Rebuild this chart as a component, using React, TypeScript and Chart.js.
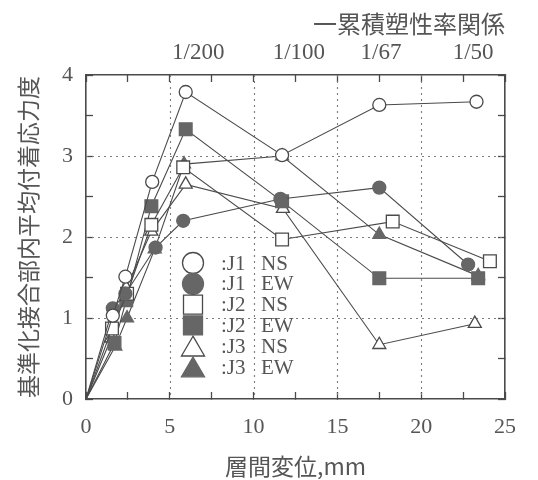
import React, { useEffect, useRef } from 'react';
import { Chart, registerables } from 'chart.js';

Chart.register(...registerables);

// ---- data ----
const xTickLabels = ['0', '5', '10', '15', '20', '25'];
const yTickLabels = ['0', '1', '2', '3', '4'];
const driftLabels = ['1/200', '1/100', '1/67', '1/50'];
const driftPositions = [6.7, 12.7, 17.6, 23.1];
const topTitle = '一累積塑性率関係';
const xTitle = '層間変位,mm';
const yTitle = '基準化接合部内平均付着応力度';
const seriesNames = ['J1 NS', 'J1 EW', 'J2 NS', 'J2 EW', 'J3 NS', 'J3 EW'];

const j1nsX = [0, 1.6, 2.35, 3.95, 5.95, 11.7, 17.5, 23.3];
const j1nsY = [0, 1.03, 1.51, 2.68, 3.79, 3.01, 3.63, 3.67];
const j1ewX = [0, 1.6, 2.35, 4.15, 5.8, 11.6, 17.5, 22.8];
const j1ewY = [0, 1.12, 1.3, 1.87, 2.2, 2.47, 2.61, 1.66];
const j2nsX = [0, 1.55, 2.45, 3.9, 5.8, 11.7, 18.3, 24.1];
const j2nsY = [0, 0.87, 1.3, 2.15, 2.86, 1.97, 2.19, 1.7];
const j2ewX = [0, 1.7, 2.4, 3.9, 5.95, 11.7, 17.5, 23.4];
const j2ewY = [0, 0.69, 1.22, 2.38, 3.33, 2.44, 1.49, 1.49];
const j3nsX = [0, 1.5, 2.4, 3.9, 5.95, 11.75, 17.5, 23.2];
const j3nsY = [0, 0.75, 1.37, 2.07, 2.65, 2.35, 0.67, 0.93];
const j3ewX = [0, 1.75, 2.45, 4.1, 5.85, 11.7, 17.5, 23.4];
const j3ewY = [0, 0.65, 1.0, 1.85, 2.9, 3.0, 2.03, 1.52];

const seriesX = [j1nsX, j1ewX, j2nsX, j2ewX, j3nsX, j3ewX];
const seriesY = [j1nsY, j1ewY, j2nsY, j2ewY, j3nsY, j3ewY];
const seriesShape = ['circle', 'circle', 'rect', 'rect', 'triangle', 'triangle'];
const seriesFilled = [false, true, false, true, false, true];

// ---- styles ----
const INK = '#4a4a4a';
const TEXT = '#555555';
const FILL = '#666666';
const GRID = '#7c7c7c';
const NUM_FONT = '"Liberation Serif", serif';
const JP_FONT = '"Noto Sans CJK JP", sans-serif';
const shapeRadius: Record<string, number> = { circle: 6.5, rect: 9, triangle: 7.5 };

function drawShape(ctx: CanvasRenderingContext2D, shape: string, x: number, y: number, r: number, filled: boolean) {
  ctx.save();
  ctx.beginPath();
  if (shape === 'circle') {
    ctx.arc(x, y, r, 0, Math.PI * 2);
  } else if (shape === 'rect') {
    ctx.rect(x - r, y - r, 2 * r, 2 * r);
  } else {
    ctx.moveTo(x, y - r);
    ctx.lineTo(x + r * 1.05, y + r * 0.8);
    ctx.lineTo(x - r * 1.05, y + r * 0.8);
    ctx.closePath();
  }
  ctx.fillStyle = filled ? FILL : '#ffffff';
  ctx.fill();
  ctx.lineWidth = 1.3;
  ctx.strokeStyle = filled ? FILL : INK;
  ctx.stroke();
  ctx.restore();
}

const gridX = [5, 10, 15, 20];
const gridY = [1, 2, 3];

const extrasPlugin = {
  id: 'extras',
  beforeDatasetsDraw(chart: any) {
    // dotted reference grid
    const ctx: CanvasRenderingContext2D = chart.ctx;
    const xs = chart.scales.x;
    const ys = chart.scales.y;
    const a = chart.chartArea;
    ctx.save();
    ctx.strokeStyle = GRID;
    ctx.lineWidth = 1.1;
    ctx.setLineDash([2, 4]);
    gridX.forEach((v) => {
      const px = Math.round(xs.getPixelForValue(v)) + 0.5;
      ctx.beginPath();
      ctx.moveTo(px, a.top);
      ctx.lineTo(px, a.bottom);
      ctx.stroke();
    });
    gridY.forEach((v) => {
      const py = Math.round(ys.getPixelForValue(v)) + 0.5;
      ctx.beginPath();
      ctx.moveTo(a.left, py);
      ctx.lineTo(a.right, py);
      ctx.stroke();
    });
    ctx.restore();
  },
  afterDraw(chart: any) {
    const ctx: CanvasRenderingContext2D = chart.ctx;
    const xs = chart.scales.x;
    ctx.save();
    // drift ratio labels along top
    ctx.font = `23px ${NUM_FONT}`;
    ctx.fillStyle = TEXT;
    ctx.textAlign = 'center';
    ctx.textBaseline = 'middle';
    driftLabels.forEach((lab, i) => {
      ctx.fillText(lab, xs.getPixelForValue(driftPositions[i]), 53);
    });
    // legend
    const lx = 193;
    const ly0 = 263;
    const dy = 20.8;
    seriesNames.forEach((name, i) => {
      const y = ly0 + i * dy;
      const sh = seriesShape[i];
      const r = sh === 'circle' ? 10.5 : sh === 'rect' ? 9.5 : 11;
      drawShape(ctx, sh, lx, y + (sh === 'triangle' ? 1 : 0), r, seriesFilled[i]);
      const [a, b] = name.split(' ');
      ctx.font = `21px ${NUM_FONT}`;
      ctx.fillStyle = TEXT;
      ctx.textAlign = 'left';
      ctx.textBaseline = 'middle';
      ctx.fillText(':' + a, 221, y + 1);
      ctx.fillText(b, 261, y + 1);
    });
    ctx.restore();
  },
};

export default function App() {
  const ref = useRef<HTMLCanvasElement | null>(null);
  useEffect(() => {
    if (!ref.current) return;
    const datasets = seriesNames.map((name, i) => {
      const sh = seriesShape[i];
      return {
        label: name,
        data: seriesX[i].map((x, j) => ({ x, y: seriesY[i][j] })),
        borderColor: INK,
        borderWidth: 1.1,
        pointStyle: sh,
        pointRadius: seriesX[i].map((_, j) => (j === 0 ? 0 : shapeRadius[sh])),
        pointBackgroundColor: seriesFilled[i] ? FILL : '#ffffff',
        pointBorderColor: seriesFilled[i] ? FILL : INK,
        pointBorderWidth: 1.3,
        fill: false,
        tension: 0,
      };
    });
    const tickFont = { family: NUM_FONT, size: 22 };
    const borderCfg = { display: true, color: INK, width: 1.6 };
    const noGrid = 'rgba(0,0,0,0)';
    const chart = new Chart(ref.current, {
      type: 'line',
      data: { datasets },
      plugins: [extrasPlugin],
      options: {
        animation: false,
        responsive: false,
        devicePixelRatio: 1,
        layout: { padding: 0 },
        plugins: { legend: { display: false }, tooltip: { enabled: false } },
        scales: {
          x: {
            type: 'linear',
            position: 'bottom',
            min: 0,
            max: 25,
            ticks: {
              stepSize: 2.5,
              autoSkip: false,
              maxRotation: 0,
              padding: 22,
              color: TEXT,
              font: tickFont,
              callback: (v: any) => (xTickLabels.includes(String(v)) ? String(v) : ''),
            },
            grid: { color: noGrid, tickColor: INK, tickLength: -7, tickWidth: 1.3 },
            border: borderCfg,
            title: { display: true, text: xTitle, color: TEXT, font: { family: JP_FONT, size: 23 }, padding: { top: 0, bottom: 0 } },
            afterFit: (s: any) => { s.height = 81; },
          },
          x2: {
            type: 'linear',
            position: 'top',
            min: 0,
            max: 25,
            ticks: { stepSize: 2.5, display: false, autoSkip: false },
            grid: { drawOnChartArea: false, tickColor: INK, tickLength: -7, tickWidth: 1.3 },
            border: borderCfg,
            title: { display: true, text: topTitle, align: 'end', color: TEXT, font: { family: JP_FONT, size: 24 }, padding: { top: 9, bottom: 0 } },
            afterFit: (s: any) => { s.height = 75; },
          },
          y: {
            type: 'linear',
            position: 'left',
            min: 0,
            max: 4,
            ticks: {
              stepSize: 0.5,
              autoSkip: false,
              padding: 20,
              color: TEXT,
              font: tickFont,
              callback: (v: any) => (yTickLabels.includes(String(v)) ? String(v) : ''),
            },
            grid: { color: noGrid, tickColor: INK, tickLength: -7, tickWidth: 1.3 },
            border: borderCfg,
            title: { display: true, text: yTitle, color: TEXT, font: { family: JP_FONT, size: 23 }, padding: { top: 14, bottom: 0 } },
            afterFit: (s: any) => { s.width = 86; },
          },
          y2: {
            type: 'linear',
            position: 'right',
            min: 0,
            max: 4,
            ticks: { stepSize: 0.5, display: false, autoSkip: false },
            grid: { drawOnChartArea: false, tickColor: INK, tickLength: -7, tickWidth: 1.3 },
            border: borderCfg,
            afterFit: (s: any) => { s.width = 18; },
          },
        },
      } as any,
    });
    return () => chart.destroy();
  }, []);
  return (
    <div style={{ position: 'absolute', left: 0, top: 0, width: 538, height: 480, background: '#ffffff' }}>
      <canvas ref={ref} width={538} height={480} style={{ display: 'block', width: 538, height: 480 }} />
    </div>
  );
}
